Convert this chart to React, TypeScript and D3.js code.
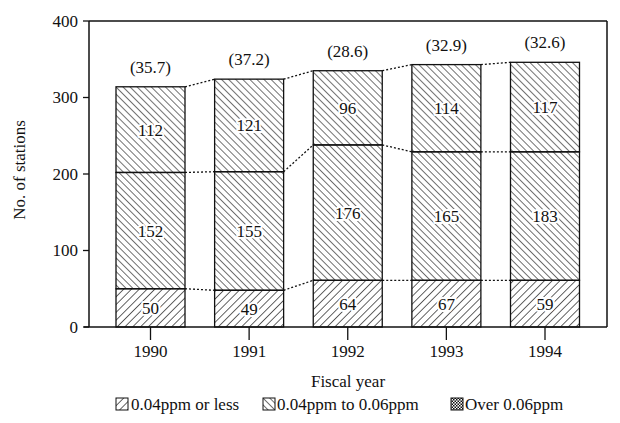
import React from "react";
import * as d3 from "d3";

const years = ["1990", "1991", "1992", "1993", "1994"];
// segment heights as drawn
const lowSeg = [50, 48, 61, 61, 61];
const midSeg = [152, 155, 177, 168, 168];
const highSeg = [112, 121, 97, 114, 117];
// printed labels
const lowLabels = ["50", "49", "64", "67", "59"];
const midLabels = ["152", "155", "176", "165", "183"];
const highLabels = ["112", "121", "96", "114", "117"];
const pctLabels = ["(35.7)", "(37.2)", "(28.6)", "(32.9)", "(32.6)"];
const yTicks = [0, 100, 200, 300, 400];
const legendLabels = ["0.04ppm or less", "0.04ppm to 0.06ppm", "Over 0.06ppm"];

const W = 620, H = 423;
const left = 89, right = 607, top = 21, bottom = 327;
const font = "'Liberation Serif', 'DejaVu Serif', serif";
const fs = 17;

export default function App() {
  const y = d3.scaleLinear().domain([0, 400]).range([bottom, top]);
  const x = d3.scalePoint<string>().domain(years).range([150.5, 545]);
  const bw = 69;

  const stacks = years.map((yr, i) => {
    const b0 = 0, b1 = lowSeg[i], b2 = b1 + midSeg[i], b3 = b2 + highSeg[i];
    return { yr, cx: x(yr) as number, levels: [b0, b1, b2, b3] };
  });
  const patterns = ["hLow", "hMid", "hHigh"];
  const labelSets = [lowLabels, midLabels, highLabels];

  return (
    <svg width={W} height={H} style={{ position: "absolute", left: 0, top: 0, background: "#fff" }} fontFamily={font}>
      <defs>
        <pattern id="hLow" patternUnits="userSpaceOnUse" width={5.5} height={5.5} patternTransform="rotate(45)">
          <line x1={0} y1={0} x2={0} y2={5.5} stroke="#111" strokeWidth={1.3} />
        </pattern>
        <pattern id="hMid" patternUnits="userSpaceOnUse" width={4.8} height={4.8} patternTransform="rotate(-45)">
          <line x1={0} y1={0} x2={0} y2={4.8} stroke="#111" strokeWidth={1.2} />
        </pattern>
        <pattern id="hHigh" patternUnits="userSpaceOnUse" width={5} height={5} patternTransform="rotate(-45)">
          <line x1={0} y1={0} x2={0} y2={5} stroke="#111" strokeWidth={1.2} />
        </pattern>
        <pattern id="hCross" patternUnits="userSpaceOnUse" width={3} height={3}>
          <rect x={0} y={0} width={1.5} height={1.5} fill="#111" />
          <rect x={1.5} y={1.5} width={1.5} height={1.5} fill="#111" />
        </pattern>
      </defs>
      <rect width={W} height={H} fill="#fff" />

      {/* frame */}
      <line x1={left} y1={top} x2={right} y2={top} stroke="#111" strokeWidth={1.5} />
      <line x1={right} y1={top} x2={right} y2={bottom} stroke="#111" strokeWidth={1.5} />
      <line x1={left} y1={top} x2={left} y2={bottom} stroke="#111" strokeWidth={1.5} />
      <line x1={84} y1={bottom} x2={right} y2={bottom} stroke="#111" strokeWidth={1.5} />

      {/* y ticks */}
      {yTicks.map((t) => (
        <g key={t}>
          <line x1={83} x2={left} y1={y(t)} y2={y(t)} stroke="#111" strokeWidth={1.3} />
          <text x={78} y={y(t)} dy="0.35em" textAnchor="end" fontSize={fs} fill="#111">{t}</text>
        </g>
      ))}

      {/* x ticks */}
      {years.map((yr) => (
        <g key={yr}>
          <line x1={x(yr)} x2={x(yr)} y1={bottom} y2={340} stroke="#111" strokeWidth={1.3} />
          <text x={x(yr)} y={351} dy="0.35em" textAnchor="middle" fontSize={fs} fill="#111">{yr}</text>
        </g>
      ))}

      {/* connectors */}
      {stacks.slice(0, -1).map((s, i) => {
        const n = stacks[i + 1];
        return [1, 2, 3].map((k) => (
          <line key={`${i}-${k}`} x1={s.cx + bw / 2} y1={y(s.levels[k])} x2={n.cx - bw / 2} y2={y(n.levels[k])}
            stroke="#111" strokeWidth={1.3} strokeDasharray="2,2" />
        ));
      })}

      {/* bars */}
      {stacks.map((s, i) => (
        <g key={s.yr}>
          {[0, 1, 2].map((k) => (
            <rect key={k} x={s.cx - bw / 2} width={bw} y={y(s.levels[k + 1])}
              height={y(s.levels[k]) - y(s.levels[k + 1])} fill={`url(#${patterns[k]})`} stroke="#111" strokeWidth={1.3} />
          ))}
          {[0, 1, 2].map((k) => (
            <text key={"t" + k} x={s.cx} y={(y(s.levels[k]) + y(s.levels[k + 1])) / 2} dy="0.35em" textAnchor="middle"
              fontSize={fs} fill="#111" stroke="#fff" strokeWidth={4} paintOrder="stroke" strokeLinejoin="round">
              {labelSets[k][i]}
            </text>
          ))}
          <text x={s.cx} y={y(s.levels[3]) - 20} dy="0.35em" textAnchor="middle" fontSize={fs} fill="#111">{pctLabels[i]}</text>
        </g>
      ))}

      {/* axis titles */}
      <text transform={`translate(19,${170}) rotate(-90)`} textAnchor="middle" dy="0.35em" fontSize={fs} fill="#111">No. of stations</text>
      <text x={348} y={381} dy="0.35em" textAnchor="middle" fontSize={fs} fill="#111">Fiscal year</text>

      {/* legend */}
      {[
        { x: 116, tx: 131, p: "hLow" },
        { x: 263, tx: 277, p: "hMid" },
        { x: 451, tx: 465, p: "hCross" },
      ].map((l, i) => (
        <g key={i}>
          <rect x={l.x} y={398} width={12} height={12} fill={`url(#${l.p})`} stroke="#111" strokeWidth={1} />
          <text x={l.tx} y={404} dy="0.35em" fontSize={fs} fill="#111">{legendLabels[i]}</text>
        </g>
      ))}
    </svg>
  );
}
